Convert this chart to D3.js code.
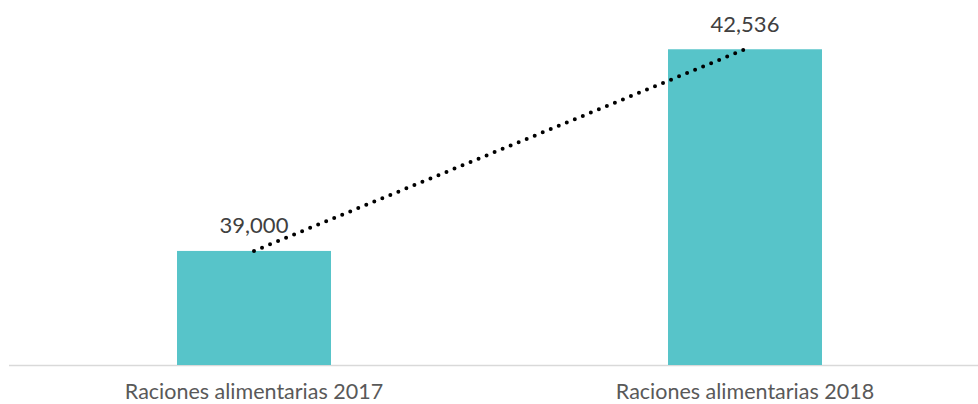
<!DOCTYPE html>
<html><head><meta charset="utf-8">
<script src="https://cdn.jsdelivr.net/npm/d3@7"></script>
<style>body{margin:0;background:#fff}svg{display:block}</style>
</head><body>
<svg id="c" width="978" height="404"></svg>
<script>
const categories = ["Raciones alimentarias 2017", "Raciones alimentarias 2018"];
const values = [39000, 42536];
const valueLabels = ["39,000", "42,536"];
const yDomain = [37000, 43000];

const svg = d3.select("#c");
const x = d3.scaleBand().domain(categories).range([8.5, 990.5]).paddingInner(0.6864).paddingOuter(0.3432);
const y = d3.scaleLinear().domain(yDomain).range([365, 22.8]);
const font = "Lato, 'Open Sans', sans-serif";

// axis line
svg.append("line").attr("x1", 9).attr("x2", 978).attr("y1", y(yDomain[0]) + 0.5).attr("y2", y(yDomain[0]) + 0.5)
  .attr("stroke", "#d9d9d9").attr("stroke-width", 1.5);

svg.selectAll("rect.bar").data(values).join("rect").attr("class", "bar")
  .attr("x", (d, i) => x(categories[i])).attr("width", x.bandwidth())
  .attr("y", d => y(d)).attr("height", d => y(yDomain[0]) - y(d))
  .attr("fill", "#57C4C9");

// value labels
svg.selectAll("text.val").data(values).join("text").attr("class", "val")
  .attr("x", (d, i) => x(categories[i]) + x.bandwidth() / 2)
  .attr("y", d => y(d) - 17.5)
  .attr("text-anchor", "middle").attr("font-family", font).attr("font-size", 22)
  .attr("fill", "#404040").text((d, i) => valueLabels[i]);

// category labels
const xAxis = svg.append("g").attr("transform", `translate(0,${y(yDomain[0])})`)
  .call(d3.axisBottom(x).tickSize(0).tickPadding(0));
xAxis.select(".domain").remove();
xAxis.selectAll("text").attr("dy", null).attr("y", 34)
  .attr("font-family", font).attr("font-size", 21.5).attr("fill", "#595959");

// dotted trendline
const line = d3.line().x((d, i) => x(categories[i]) + x.bandwidth() / 2).y(d => y(d));
svg.append("path").datum(values).attr("d", line).attr("fill", "none")
  .attr("stroke", "#000").attr("stroke-width", 4).attr("stroke-linecap", "round")
  .attr("stroke-dasharray", "0 8.67");
</script>
</body></html>
